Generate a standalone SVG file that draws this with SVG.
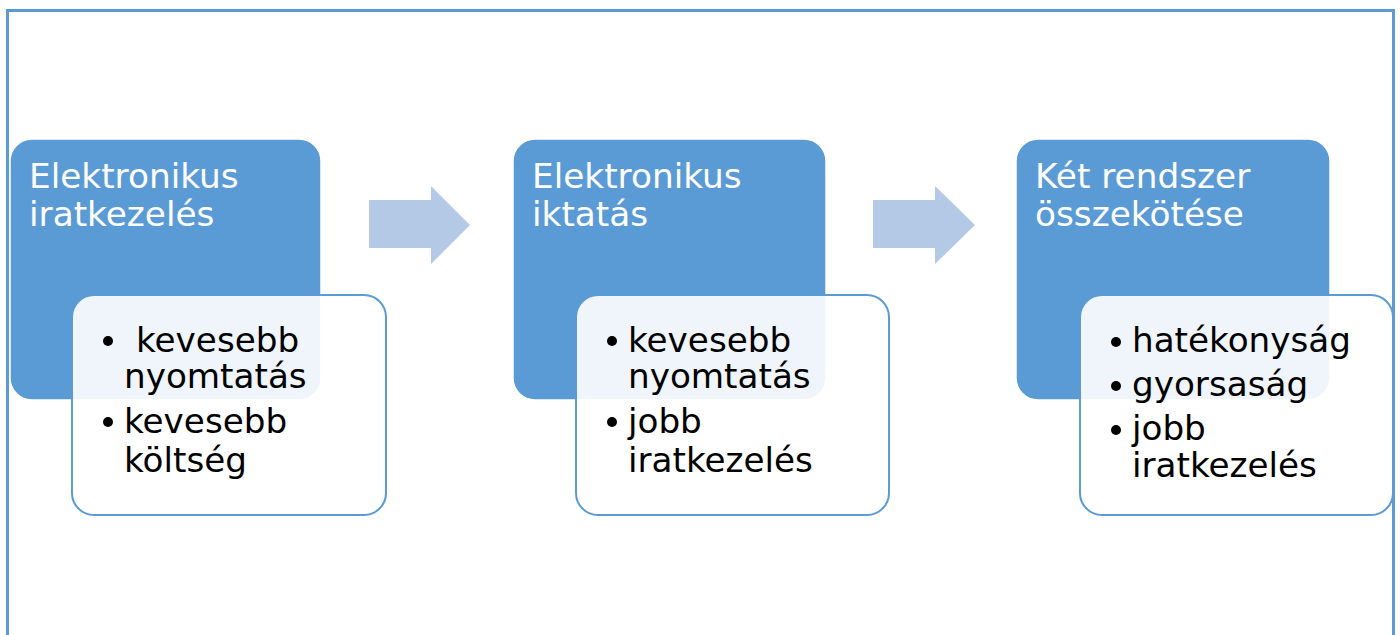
<svg xmlns="http://www.w3.org/2000/svg" width="1400" height="635" viewBox="0 0 1400 635">
<style>
.frame{fill:none;stroke:#5B9BD5;stroke-width:3}
.head{fill:#5B9BD5;stroke:#ffffff;stroke-width:1.5}
.body{fill:#ffffff;fill-opacity:0.9;stroke:#5B9BD5;stroke-width:2}
.arrow{fill:#B4C9E6}
.ttl{font-family:"DejaVu Sans",Verdana,sans-serif;font-size:34.3px;fill:#ffffff}
.itm{font-family:"DejaVu Sans",Verdana,sans-serif;font-size:34.2px;fill:#000000}
.dot{fill:#000000}
</style>
<path class="frame" d="M7.5,635 V10.5 H1393.5 V635"/>
<g id="connectors">
<path class="arrow" d="M369,200 H431 V186 L470,225 L431,264 V248 H369 Z"/>
<path class="arrow" d="M873,200 H935 V186 L975,225 L935,264 V248 H873 Z"/>
</g>
<g id="node1">
<rect class="head" x="10" y="139" width="311" height="261" rx="22"/>
<text class="ttl" x="29" y="188">Elektronikus</text>
<text class="ttl" x="29" y="226">iratkezelés</text>
<rect class="body" x="72" y="295" width="314" height="220" rx="22"/>
<circle class="dot" cx="108" cy="341" r="5"/>
<text class="itm" x="136" y="352">kevesebb</text>
<text class="itm" x="124" y="388">nyomtatás</text>
<circle class="dot" cx="108" cy="422" r="5"/>
<text class="itm" x="124" y="433">kevesebb</text>
<text class="itm" x="124" y="472">költség</text>
</g>
<g id="node2">
<rect class="head" x="513" y="139" width="313" height="261" rx="22"/>
<text class="ttl" x="532" y="188">Elektronikus</text>
<text class="ttl" x="532" y="226">iktatás</text>
<rect class="body" x="576" y="295" width="313" height="220" rx="22"/>
<circle class="dot" cx="612" cy="341" r="5"/>
<text class="itm" x="628" y="352">kevesebb</text>
<text class="itm" x="628" y="388">nyomtatás</text>
<circle class="dot" cx="612" cy="422" r="5"/>
<text class="itm" x="628" y="433">jobb</text>
<text class="itm" x="628" y="472">iratkezelés</text>
</g>
<g id="node3">
<rect class="head" x="1016" y="139" width="314" height="261" rx="22"/>
<text class="ttl" x="1035" y="188">Két rendszer</text>
<text class="ttl" x="1035" y="226">összekötése</text>
<rect class="body" x="1080" y="295" width="313" height="220" rx="22"/>
<circle class="dot" cx="1116" cy="342" r="5"/>
<text class="itm" x="1132" y="352">hatékonyság</text>
<circle class="dot" cx="1116" cy="386" r="5"/>
<text class="itm" x="1132" y="396">gyorsaság</text>
<circle class="dot" cx="1116" cy="430" r="5"/>
<text class="itm" x="1132" y="440">jobb</text>
<text class="itm" x="1132" y="477">iratkezelés</text>
</g>
</svg>
